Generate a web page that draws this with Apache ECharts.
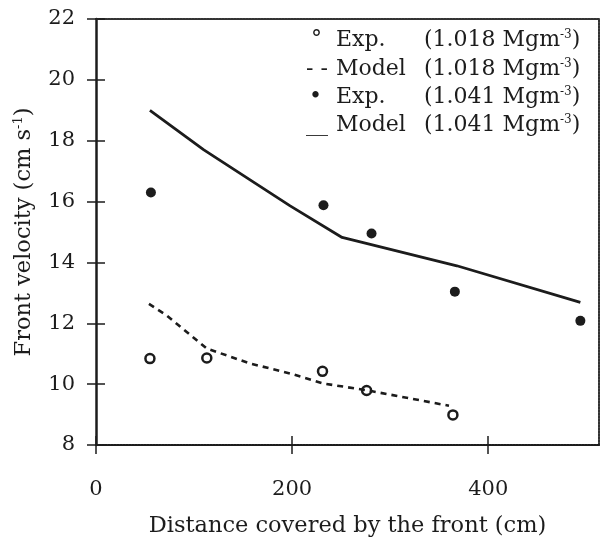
<!DOCTYPE html>
<html>
<head>
<meta charset="utf-8">
<script src="https://cdn.jsdelivr.net/npm/echarts@6/dist/echarts.min.js"></script>
<style>
html,body{margin:0;padding:0;background:#fff;}
#chart{width:604px;height:543px;}
</style>
</head>
<body>
<div id="chart"></div>
<script>
// Data
const expLowX = [55, 113, 231, 276, 364];
const expLowY = [10.84, 10.86, 10.42, 9.79, 8.99];
const modelLowX = [54, 72, 113, 157, 198, 232, 276, 360];
const modelLowY = [12.64, 12.26, 11.17, 10.68, 10.35, 10.02, 9.80, 9.29];
const expHighX = [56, 232, 281, 366, 494];
const expHighY = [16.30, 15.88, 14.95, 13.04, 12.08];
const modelHighX = [55, 110, 198, 251, 368, 494];
const modelHighY = [19.0, 17.7, 15.86, 14.82, 13.89, 12.69];
const xTicks = [0, 200, 400];
const yTicks = [8, 10, 12, 14, 16, 18, 20, 22];
const legendSymbols = ['\u00b0', '- -', '\u2022', '__'];
const legendNames = ['Exp.', 'Model', 'Exp.', 'Model'];
const legendDensity = ['1.018', '1.018', '1.041', '1.041'];

const pair = (xs, ys) => xs.map((x, i) => [x, ys[i]]);
const ink = '#1c1c1c';
const FONT = 'DejaVu Serif';

const chart = echarts.init(document.getElementById('chart'), null, {renderer: 'canvas'});

const gridL = 96, gridR = 5, gridT = 19, gridB = 96;

const legendGraphics = [];
const rowY = [42, 71, 99, 127];
const symX = [311, 306, 309, 306];
for (let i = 0; i < 4; i++) {
  legendGraphics.push({
    type: 'text', left: symX[i], top: rowY[i] - 13,
    style: {text: legendSymbols[i], font: '22px "' + FONT + '"', fill: ink}
  });
  legendGraphics.push({
    type: 'text', left: 336, top: rowY[i] - 13,
    style: {text: legendNames[i], font: '22px "' + FONT + '"', fill: ink}
  });
  legendGraphics.push({
    type: 'text', left: 424, top: rowY[i] - 13,
    style: {
      text: '(' + legendDensity[i] + ' Mgm{sup|-3})',
      font: '22px "' + FONT + '"', fill: ink,
      rich: {sup: {fontSize: 12, fontFamily: FONT, verticalAlign: 'top', padding: [0, 0, 11, 0], fill: ink}}
    }
  });
}

const option = {
  backgroundColor: '#ffffff',
  animation: false,
  grid: {left: gridL, right: gridR, top: gridT, bottom: gridB, containLabel: false},
  xAxis: [
    {
      type: 'value', min: 0, max: 513, position: 'bottom',
      name: 'Distance covered by the front (cm)', nameLocation: 'middle', nameGap: 70,
      nameTextStyle: {fontFamily: FONT, fontSize: 22.5, color: ink},
      axisLine: {show: true, onZero: false, lineStyle: {color: ink, width: 2, type: [2, 1]}},
      axisTick: {show: true, inside: false, length: 9, customValues: xTicks, lineStyle: {color: ink, width: 1.5}},
      axisLabel: {show: true, margin: 34, customValues: xTicks, fontFamily: FONT, fontSize: 21, color: ink},
      splitLine: {show: false}
    },
    {
      type: 'value', min: 0, max: 513, position: 'bottom', gridIndex: 0,
      axisLine: {show: false},
      axisTick: {show: true, inside: true, length: 9, customValues: xTicks, lineStyle: {color: ink, width: 1.5}},
      axisLabel: {show: false}, splitLine: {show: false}
    },
    {
      type: 'value', min: 0, max: 513, position: 'top',
      axisLine: {show: true, onZero: false, lineStyle: {color: '#333', width: 2, type: [2, 1]}},
      axisTick: {show: false}, axisLabel: {show: false}, splitLine: {show: false}
    }
  ],
  yAxis: [
    {
      type: 'value', min: 8, max: 22, interval: 2, position: 'left',
      name: 'Front velocity (cm s{sup|-1})', nameLocation: 'middle', nameGap: 60, nameRotate: 90,
      nameTextStyle: {fontFamily: FONT, fontSize: 22.5, color: ink,
        rich: {sup: {fontSize: 13, fontFamily: FONT, verticalAlign: 'top', padding: [0, 0, 11, 0], color: ink}}},
      axisLine: {show: true, onZero: false, lineStyle: {color: ink, width: 2.5}},
      axisTick: {show: true, inside: false, length: 9, lineStyle: {color: ink, width: 1.5}},
      axisLabel: {show: true, margin: 21, fontFamily: FONT, fontSize: 21, color: ink},
      splitLine: {show: false}
    },
    {
      type: 'value', min: 8, max: 22, interval: 2, position: 'left',
      axisLine: {show: false},
      axisTick: {show: true, inside: true, length: 9, lineStyle: {color: ink, width: 1.5}},
      axisLabel: {show: false}, splitLine: {show: false}
    },
    {
      type: 'value', min: 8, max: 22, interval: 2, position: 'right',
      axisLine: {show: true, onZero: false, lineStyle: {color: '#333', width: 2, type: [2, 1]}},
      axisTick: {show: false}, axisLabel: {show: false}, splitLine: {show: false}
    }
  ],
  series: [
    {
      name: 'Model (1.018 Mgm-3)', type: 'line', data: pair(modelLowX, modelLowY),
      showSymbol: false, symbol: 'none', smooth: false,
      lineStyle: {color: ink, width: 2.6, type: [6, 5]}
    },
    {
      name: 'Model (1.041 Mgm-3)', type: 'line', data: pair(modelHighX, modelHighY),
      showSymbol: false, symbol: 'none', smooth: false,
      lineStyle: {color: ink, width: 2.8}
    },
    {
      name: 'Exp. (1.018 Mgm-3)', type: 'scatter', data: pair(expLowX, expLowY),
      symbol: 'circle', symbolSize: 9,
      itemStyle: {color: '#ffffff', borderColor: ink, borderWidth: 2.5, opacity: 1}
    },
    {
      name: 'Exp. (1.041 Mgm-3)', type: 'scatter', data: pair(expHighX, expHighY),
      symbol: 'circle', symbolSize: 10,
      itemStyle: {color: ink, opacity: 1}
    }
  ],
  graphic: legendGraphics
};

chart.setOption(option);
</script>
</body>
</html>
